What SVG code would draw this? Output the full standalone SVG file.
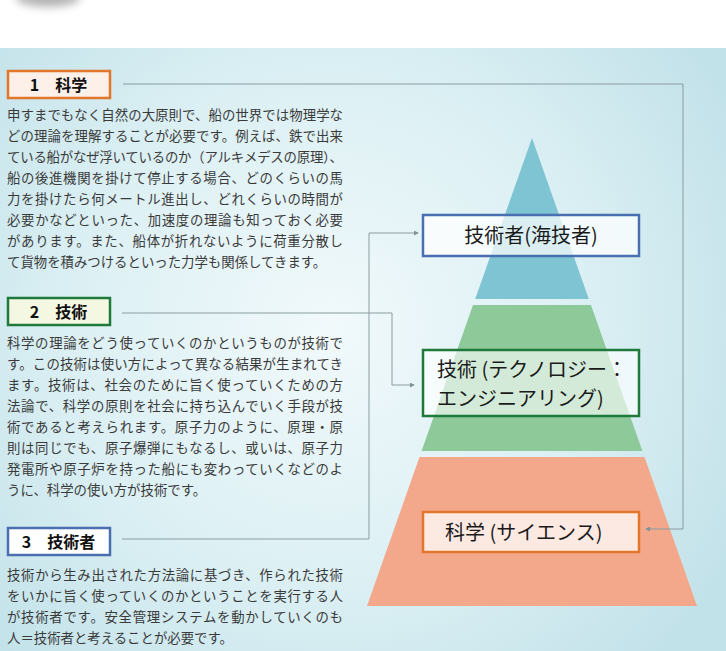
<svg xmlns="http://www.w3.org/2000/svg" width="726" height="651" viewBox="0 0 726 651">
  <defs>
    <radialGradient id="bg" cx="330" cy="330" r="460" gradientUnits="userSpaceOnUse">
      <stop offset="0" stop-color="#f1f9fb"/>
      <stop offset="0.55" stop-color="#dcf0f4"/>
      <stop offset="1" stop-color="#c2e2e9"/>
    </radialGradient>
    <filter id="blur" x="-50%" y="-50%" width="200%" height="200%">
      <feGaussianBlur stdDeviation="4"/>
    </filter>
    <marker id="arr" viewBox="0 0 6 6" refX="5" refY="3" markerWidth="5" markerHeight="5" orient="auto" markerUnits="userSpaceOnUse">
      <path d="M0,0 L6,3 L0,6 Z" fill="#7f9297"/>
    </marker>
    <style>
      .body { font-family: "Noto Sans CJK JP", "Noto Sans", sans-serif; font-size: 13.4px; fill: #3a3a3a; }
      .hdr { font-family: "Noto Sans CJK JP", "Noto Sans", sans-serif; font-size: 16px; font-weight: bold; fill: #111; }
      .lbl { font-family: "Noto Sans CJK JP", "Noto Sans", sans-serif; font-size: 20px; fill: #1a1a1a; }
      .conn { fill: none; stroke: #8a9ca1; stroke-width: 1; }
    </style>
  </defs>

  <rect x="0" y="0" width="726" height="651" fill="#ffffff"/>
  <ellipse cx="48" cy="-2" rx="32" ry="9" fill="#777" opacity="0.55" filter="url(#blur)"/>
  <rect x="0" y="48" width="726" height="603" fill="url(#bg)"/>

  <!-- pyramid -->
  <g id="pyramid">
    <polygon points="532,138 588.8,299 475.2,299" fill="#7ec4d2"/>
    <polygon points="473,305 591,305 642.4,451 421.6,451" fill="#8ec99a"/>
    <polygon points="419.5,457 644.5,457 697,606 367,606" fill="#f3a88c"/>
  </g>

  <!-- connectors -->
  <g id="connectors">
    <polyline class="conn" points="123,84 683,84 683,529 646,529" marker-end="url(#arr)"/>
    <polyline class="conn" points="122,313 392,313 392,385 414,385" marker-end="url(#arr)"/>
    <polyline class="conn" points="122,539 369,539 369,233 418,233" marker-end="url(#arr)"/>
  </g>

  <!-- section 1 -->
  <g id="hdr-science">
    <rect x="8" y="71" width="102" height="27" fill="#fdf0e8" stroke="#e2762a" stroke-width="2.5"/>
    <text class="hdr" x="58.5" y="90.5" text-anchor="middle">1　科学</text>
  </g>
  <g id="text-science" class="body">
    <text x="7" y="120" textLength="336" lengthAdjust="spacing">申すまでもなく自然の大原則で、船の世界では物理学な</text>
    <text x="7" y="141" textLength="336" lengthAdjust="spacing">どの理論を理解することが必要です。例えば、鉄で出来</text>
    <text x="7" y="162" textLength="336" lengthAdjust="spacing">ている船がなぜ浮いているのか（アルキメデスの原理）、</text>
    <text x="7" y="183" textLength="336" lengthAdjust="spacing">船の後進機関を掛けて停止する場合、どのくらいの馬</text>
    <text x="7" y="204" textLength="336" lengthAdjust="spacing">力を掛けたら何メートル進出し、どれくらいの時間が</text>
    <text x="7" y="225" textLength="336" lengthAdjust="spacing">必要かなどといった、加速度の理論も知っておく必要</text>
    <text x="7" y="246" textLength="336" lengthAdjust="spacing">があります。また、船体が折れないように荷重分散し</text>
    <text x="7" y="267">て貨物を積みつけるといった力学も関係してきます。</text>
  </g>

  <!-- section 2 -->
  <g id="hdr-tech">
    <rect x="8" y="298" width="102" height="27" fill="#f4f7e2" stroke="#1e7a3a" stroke-width="2.5"/>
    <text class="hdr" x="58.5" y="317.5" text-anchor="middle">2　技術</text>
  </g>
  <g id="text-tech" class="body">
    <text x="7" y="348" textLength="336" lengthAdjust="spacing">科学の理論をどう使っていくのかというものが技術で</text>
    <text x="7" y="369" textLength="336" lengthAdjust="spacing">す。この技術は使い方によって異なる結果が生まれてき</text>
    <text x="7" y="390" textLength="336" lengthAdjust="spacing">ます。技術は、社会のために旨く使っていくための方</text>
    <text x="7" y="411" textLength="336" lengthAdjust="spacing">法論で、科学の原則を社会に持ち込んでいく手段が技</text>
    <text x="7" y="432" textLength="336" lengthAdjust="spacing">術であると考えられます。原子力のように、原理・原</text>
    <text x="7" y="453" textLength="336" lengthAdjust="spacing">則は同じでも、原子爆弾にもなるし、或いは、原子力</text>
    <text x="7" y="474" textLength="336" lengthAdjust="spacing">発電所や原子炉を持った船にも変わっていくなどのよ</text>
    <text x="7" y="495">うに、科学の使い方が技術です。</text>
  </g>

  <!-- section 3 -->
  <g id="hdr-engineer">
    <rect x="8" y="528" width="102" height="27" fill="#ffffff" stroke="#4a6fb0" stroke-width="2.5"/>
    <text class="hdr" x="58.5" y="547.5" text-anchor="middle">3　技術者</text>
  </g>
  <g id="text-engineer" class="body">
    <text x="7" y="580" textLength="336" lengthAdjust="spacing">技術から生み出された方法論に基づき、作られた技術</text>
    <text x="7" y="601" textLength="336" lengthAdjust="spacing">をいかに旨く使っていくのかということを実行する人</text>
    <text x="7" y="622" textLength="336" lengthAdjust="spacing">が技術者です。安全管理システムを動かしていくのも</text>
    <text x="7" y="643">人＝技術者と考えることが必要です。</text>
  </g>

  <!-- pyramid labels -->
  <g id="lbl-engineer">
    <rect x="423" y="215" width="216" height="41" fill="#ffffff" fill-opacity="0.72" stroke="#4a6fb0" stroke-width="2.5"/>
    <text class="lbl" x="531" y="243" text-anchor="middle">技術者(海技者)</text>
  </g>
  <g id="lbl-tech">
    <rect x="423" y="350" width="216" height="66" fill="#ffffff" fill-opacity="0.62" stroke="#1e7a3a" stroke-width="2.5"/>
    <text class="lbl" x="437" y="377">技術 (テクノロジー：</text>
    <text class="lbl" x="437" y="406">エンジニアリング)</text>
  </g>
  <g id="lbl-science">
    <rect x="423" y="512" width="216" height="40" fill="#ffffff" fill-opacity="0.75" stroke="#e2762a" stroke-width="2.5"/>
    <text class="lbl" x="445" y="539.5">科学 (サイエンス)</text>
  </g>
</svg>
